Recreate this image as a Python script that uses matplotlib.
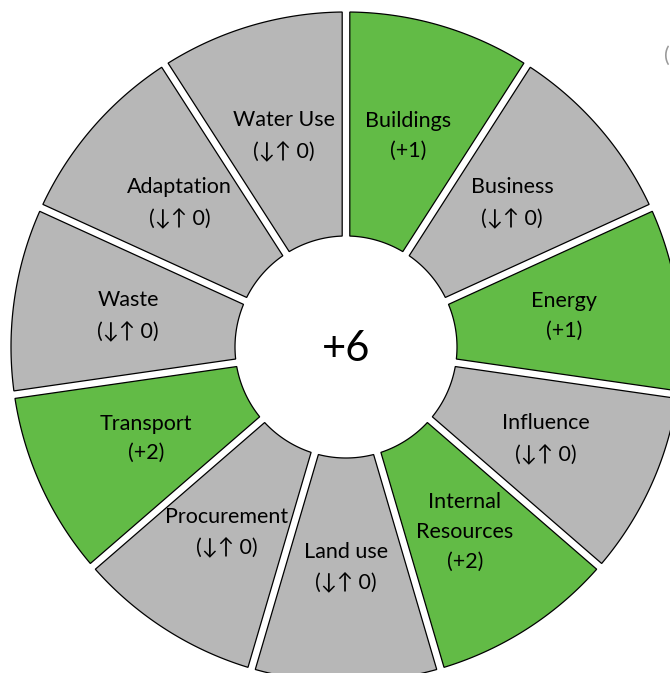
import numpy as np
import matplotlib.pyplot as plt
from matplotlib.patches import Polygon

# Segments clockwise from 12 o'clock
categories = ["Buildings", "Business", "Energy", "Influence", "Internal\nResources",
              "Land use", "Procurement", "Transport", "Waste", "Adaptation", "Water Use"]
scores = [1, 0, 1, 0, 2, 0, 0, 2, 0, 0, 0]
total_label = "+6"

GREEN = "#62bb46"
GREY = "#b7b7b7"

W, H = 670, 673
cx, cy = 346, 347          # centre in pixels
R_out, R_in = 335, 111
half_gap = 3.8
label_r = 220

fig = plt.figure(figsize=(W / 100, H / 100), dpi=100)
ax = fig.add_axes([0, 0, 1, 1])
ax.set_xlim(0, W)
ax.set_ylim(H, 0)
ax.set_aspect("equal")
ax.axis("off")

n = len(categories)
step = 2 * np.pi / n


def pt(r, ang):
    # ang measured clockwise from up, y axis points down
    return cx + r * np.sin(ang), cy - r * np.cos(ang)


for i, (cat, s) in enumerate(zip(categories, scores)):
    a0, a1 = i * step, (i + 1) * step
    do, di = np.arcsin(half_gap / R_out), np.arcsin(half_gap / R_in)
    outer = np.linspace(a0 + do, a1 - do, 60)
    inner = np.linspace(a1 - di, a0 + di, 30)
    xs = [pt(R_out, a)[0] for a in outer] + [pt(R_in, a)[0] for a in inner]
    ys = [pt(R_out, a)[1] for a in outer] + [pt(R_in, a)[1] for a in inner]
    ax.add_patch(Polygon(np.column_stack([xs, ys]), closed=True,
                         facecolor=GREEN if s > 0 else GREY,
                         edgecolor="black", linewidth=0.9))
    val = f"(+{s})" if s > 0 else "(\u2193\u2191 0)"
    lx, ly = pt(label_r, (i + 0.5) * step)
    ax.text(lx, ly, f"{cat}\n{val}", ha="center", va="center", fontsize=15.5,
            linespacing=1.6, family=["Lato", "DejaVu Sans"], color="black")

ax.text(cx, cy + 2, total_label, ha="center", va="center", fontsize=30,
        family=["Lato", "DejaVu Sans"], color="black")
ax.text(664, 56, "(", ha="left", va="center", fontsize=15, color="#999999",
        family=["Lato", "DejaVu Sans"])

fig.savefig("out.png", dpi=100)
